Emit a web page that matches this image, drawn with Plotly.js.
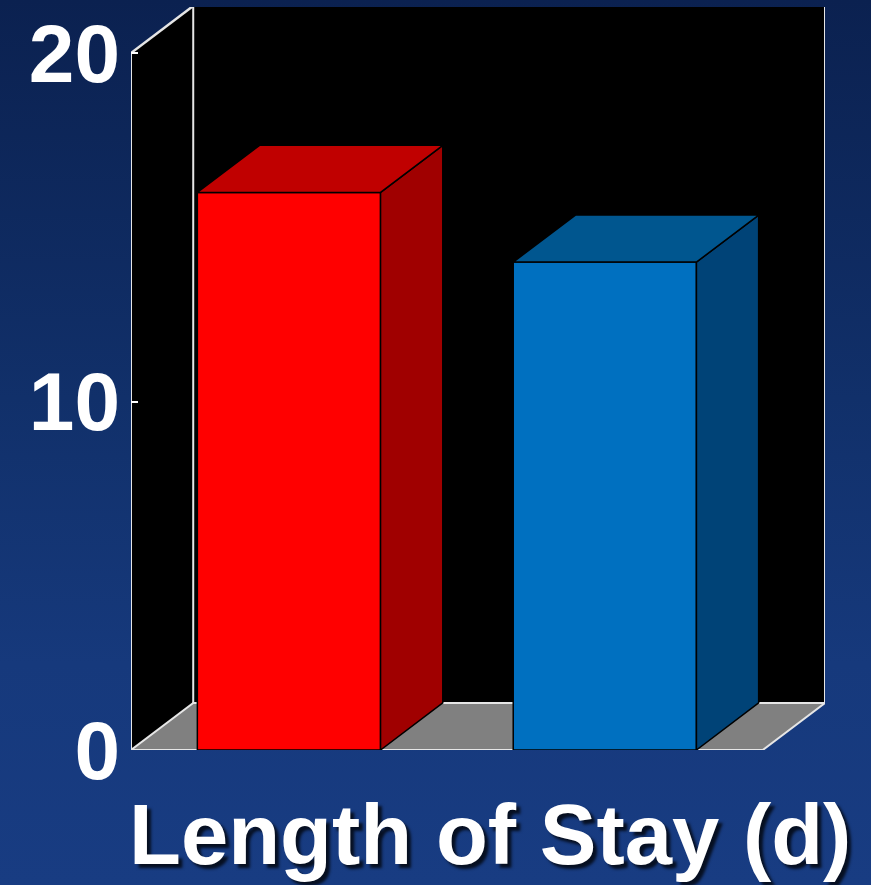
<!DOCTYPE html>
<html>
<head>
<meta charset="utf-8">
<script src="https://cdn.plot.ly/plotly-3.0.1.min.js"></script>
<style>
  html, body { margin: 0; padding: 0; width: 871px; height: 885px; overflow: hidden;
    background: linear-gradient(to bottom, #0b2150 0%, #11306a 45%, #16397c 75%, #183c82 100%); }
  #chart { width: 871px; height: 885px; }
</style>
</head>
<body>
<div id="chart"></div>
<script>
// ---- data ----
const categories = ['Group 1', 'Group 2'];
const values = [16, 14];
const tickValues = [0, 10, 20];
const tickLabels = ['0', '10', '20'];
const axisTitle = 'Length of Stay (d)';

// ---- styles ----
const frontColors = ['#ff0000', '#0070c0'];
const topColors = ['#c00000', '#00568f'];
const sideColors = ['#a00000', '#004377'];
const DX = 0.197;   // depth offset in x units
const DY = 1.35;    // depth offset in y units
const HALF = 0.29;  // half bar width
const yMax = 20;

const xPos = categories.map((c, i) => i);
const traces = [];

// side faces and tops (3-D effect), derived from the values
categories.forEach((c, i) => {
  const x0 = xPos[i] - HALF, x1 = xPos[i] + HALF, v = values[i];
  traces.push({
    type: 'scatter', mode: 'lines', fill: 'toself',
    x: [x1, x1 + DX, x1 + DX, x1, x1],
    y: [0, DY, v + DY, v, 0],
    fillcolor: sideColors[i], line: {color: '#000', width: 1.5},
    hoverinfo: 'skip', showlegend: false
  });
  traces.push({
    type: 'scatter', mode: 'lines', fill: 'toself',
    x: [x0, x1, x1 + DX, x0 + DX, x0],
    y: [v, v, v + DY, v + DY, v],
    fillcolor: topColors[i], line: {color: '#000', width: 1.5},
    hoverinfo: 'skip', showlegend: false
  });
});

// front faces
traces.push({
  type: 'bar', x: xPos, y: values, width: HALF * 2,
  marker: {color: frontColors, line: {color: '#000', width: 1.5}},
  hoverinfo: 'skip', showlegend: false
});

const L = -0.5, R = categories.length - 0.5;
const edge = '#e6e6e6';
const shapes = [
  // left side wall
  {type: 'path', layer: 'below', xref: 'x', yref: 'y',
   path: `M ${L},0 L ${L},${yMax} L ${L + DX},${yMax + DY} L ${L + DX},${DY} Z`,
   fillcolor: '#000', line: {width: 0}},
  // back wall
  {type: 'rect', layer: 'below', xref: 'x', yref: 'y',
   x0: L + DX, x1: R + DX, y0: DY, y1: yMax + DY,
   fillcolor: '#000', line: {color: edge, width: 2}},
  // floor
  {type: 'path', layer: 'below', xref: 'x', yref: 'y',
   path: `M ${L},0 L ${R},0 L ${R + DX},${DY} L ${L + DX},${DY} Z`,
   fillcolor: '#808080', line: {color: edge, width: 2}},
  // top-left diagonal edge
  {type: 'line', layer: 'below', xref: 'x', yref: 'y',
   x0: L, y0: yMax, x1: L + DX, y1: yMax + DY, line: {color: edge, width: 2.5}},
  // value axis line
  {type: 'line', layer: 'below', xref: 'x', yref: 'y',
   x0: L, y0: 0, x1: L, y1: yMax, line: {color: edge, width: 2}}
];

const layout = {
  width: 871, height: 885,
  margin: {l: 131, r: 46, t: 7, b: 135},
  paper_bgcolor: 'rgba(0,0,0,0)',
  plot_bgcolor: 'rgba(0,0,0,0)',
  showlegend: false,
  xaxis: {range: [L, R + DX], showgrid: false, zeroline: false, showline: false,
          showticklabels: false, ticks: '', fixedrange: true},
  yaxis: {range: [0, yMax + 1.32], showgrid: false, zeroline: false, showline: false,
          tickmode: 'array', tickvals: tickValues, ticktext: tickLabels,
          ticks: 'inside', ticklen: 7, tickwidth: 2, tickcolor: '#ffffff',
          ticklabelstandoff: 10,
          tickfont: {family: 'Liberation Sans, Arial, sans-serif', size: 82, color: '#ffffff', weight: 'bold'},
          fixedrange: true},
  shapes: shapes,
  annotations: [{
    text: axisTitle, xref: 'paper', yref: 'paper',
    x: 0.517, y: -0.114, xanchor: 'center', yanchor: 'middle', showarrow: false,
    font: {family: 'Liberation Sans, Arial, sans-serif', size: 85, color: '#ffffff', weight: 'bold',
           shadow: '4px 4px 3px rgba(0,0,0,0.75)'}
  }]
};

Plotly.newPlot('chart', traces, layout, {staticPlot: true, displayModeBar: false});
</script>
</body>
</html>
